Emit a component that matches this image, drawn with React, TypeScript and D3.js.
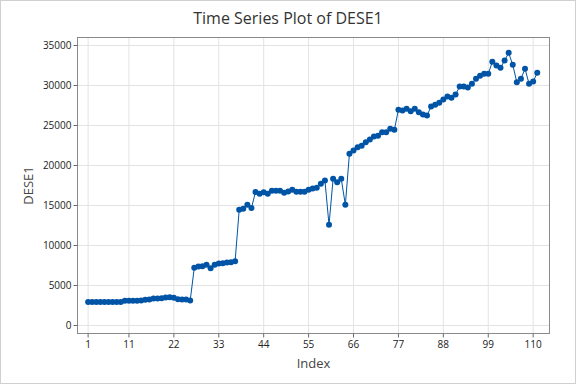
import React from "react";
import * as d3 from "d3";

const values: number[] = [
  2940, 2940, 2950, 2940, 2940, 2950, 2940, 2940, 2950, 3080,
  3100, 3100, 3090, 3110, 3230, 3260, 3360, 3380, 3400, 3500,
  3520, 3480, 3280, 3260, 3250, 3120, 7210, 7375, 7410, 7580,
  7170, 7580, 7750, 7790, 7870, 7910, 8040, 14460, 14580, 15100,
  14690, 16700, 16460, 16670, 16460, 16830, 16830, 16830, 16580, 16750,
  16960, 16710, 16710, 16710, 16960, 17120, 17210, 17710, 18120, 12580,
  18330, 17920, 18330, 15080, 21460, 21870, 22290, 22480, 22920, 23250,
  23620, 23710, 24160, 24160, 24580, 24460, 26960, 26870, 27080, 26790,
  27080, 26660, 26370, 26250, 27370, 27580, 27830, 28250, 28620, 28460,
  28870, 29870, 29870, 29750, 30210, 30830, 31230, 31460, 31460, 32960,
  32500, 32210, 33120, 34080, 32580, 30410, 30830, 32080, 30210, 30500,
  31580,
];
const xTicks: number[] = [1, 11, 22, 33, 44, 55, 66, 77, 88, 99, 110];
const yTicks: number[] = [0, 5000, 10000, 15000, 20000, 25000, 30000, 35000];
const title = "Time Series Plot of DESE1";
const xLabel = "Index";
const yLabel = "DESE1";

const W = 576, H = 384;
const L = 77.5, R = 549.5, T = 37.5, B = 333.5;
const FONT = "'Open Sans', 'Noto Sans', sans-serif";

export default function App() {
  const x = d3.scaleLinear().domain([-1.6, 114]).range([L, R]);
  const y = d3.scaleLinear().domain([-1000, 36000]).range([B, T]);
  const line = d3
    .line<number>()
    .x((_, i) => x(i + 1))
    .y((d) => y(d));
  const blue = "#0054a6";
  return (
    <svg
      width={W}
      height={H}
      style={{ position: "fixed", left: 0, top: 0, background: "#fff" }}
    >
      <rect x={0.5} y={0.5} width={W - 1} height={H - 1} fill="#fff" stroke="#d0d0d0" />
      {xTicks.map((t) => (
        <line key={"gx" + t} x1={x(t)} x2={x(t)} y1={T} y2={B} stroke="#e3e3e3" strokeWidth={1} />
      ))}
      {yTicks.map((t) => (
        <line key={"gy" + t} x1={L} x2={R} y1={y(t)} y2={y(t)} stroke="#e3e3e3" strokeWidth={1} />
      ))}
      <rect x={L} y={T} width={R - L} height={B - T} fill="none" stroke="#8a8a8a" strokeWidth={1} />
      {xTicks.map((t) => (
        <g key={"tx" + t}>
          <line x1={x(t)} x2={x(t)} y1={B} y2={B + 4} stroke="#6a6a6a" />
          <text x={x(t)} y={B + 14} textAnchor="middle" fontFamily={FONT} fontSize={10} fill="#222">
            {t}
          </text>
        </g>
      ))}
      {yTicks.map((t) => (
        <g key={"ty" + t}>
          <line x1={L - 4} x2={L} y1={y(t)} y2={y(t)} stroke="#6a6a6a" />
          <text x={L - 6} y={y(t)} dy="0.35em" textAnchor="end" fontFamily={FONT} fontSize={10} fill="#222">
            {t}
          </text>
        </g>
      ))}
      <path d={line(values) || ""} fill="none" stroke={blue} strokeWidth={1} />
      {values.map((v, i) => (
        <circle key={i} cx={x(i + 1)} cy={y(v)} r={3} fill={blue} />
      ))}
      <text x={W / 2} y={24} textAnchor="middle" fontFamily={FONT} fontSize={16} fill="#333">
        {title}
      </text>
      <text x={(L + R) / 2} y={368} textAnchor="middle" fontFamily={FONT} fontSize={13} fill="#444">
        {xLabel}
      </text>
      <text
        transform={`translate(33, ${(T + B) / 2}) rotate(-90)`}
        textAnchor="middle"
        fontFamily={FONT}
        fontSize={13}
        fill="#444"
      >
        {yLabel}
      </text>
    </svg>
  );
}
